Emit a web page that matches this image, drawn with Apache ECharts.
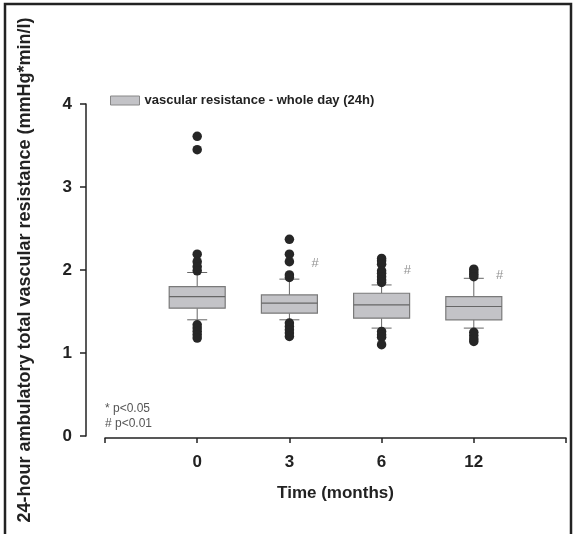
<!DOCTYPE html>
<html>
<head>
<meta charset="utf-8">
<script src="https://cdn.jsdelivr.net/npm/echarts@6/dist/echarts.min.js"></script>
<style>
  html, body { margin: 0; padding: 0; background: #fff; }
  #chart { width: 574px; height: 534px; }
</style>
</head>
<body>
<div id="chart"></div>
<script>
// time points (months) shown on the x axis
const timeLabels = ["0", "3", "6", "12"];
// box statistics per time point: [min whisker, Q1, median, Q3, max whisker]
const boxStats = [
  [1.40, 1.54, 1.68, 1.80, 1.97],
  [1.40, 1.48, 1.60, 1.70, 1.89],
  [1.30, 1.42, 1.58, 1.72, 1.82],
  [1.30, 1.40, 1.56, 1.68, 1.90]
];
// outliers per time point
const outliers0 = [3.61, 3.45, 2.19, 2.10, 2.04, 1.99, 1.34, 1.30, 1.26, 1.22, 1.18];
const outliers3 = [2.37, 2.19, 2.10, 1.94, 1.91, 1.36, 1.32, 1.28, 1.24, 1.20];
const outliers6 = [2.14, 2.11, 2.07, 1.99, 1.96, 1.92, 1.88, 1.85, 1.26, 1.22, 1.19, 1.10];
const outliers12 = [2.01, 1.98, 1.95, 1.92, 1.25, 1.21, 1.17, 1.14];
// significance marks (#) next to boxes: group index + offset, height
const hashX = [1.28, 2.28, 3.28];
const hashY = [2.08, 2.00, 1.94];
const yTicks = [0, 1, 2, 3, 4];

const legendName = "vascular resistance - whole day (24h)";
const boxColor = "#c3c3c7";

let boxData = boxStats.map((s, i) => [i].concat(s));
let outlierData = [];
[outliers0, outliers3, outliers6, outliers12].forEach((arr, i) => {
  arr.forEach(v => outlierData.push([i, v]));
});
let hashData = hashX.map((x, i) => [x, hashY[i]]);

let chart = echarts.init(document.getElementById("chart"));

chart.setOption({
  animation: false,
  textStyle: { fontFamily: "Liberation Sans, Arial, sans-serif" },
  grid: { left: 105, right: 8, top: 104, bottom: 98 },
  legend: {
    left: 105,
    top: 89,
    itemWidth: 29,
    itemHeight: 9,
    itemGap: 4,
    textStyle: { fontSize: 13, fontWeight: "bold", color: "#222" },
    data: [{ name: legendName, icon: "rect", itemStyle: { color: boxColor, borderColor: "#888", borderWidth: 1 } }]
  },
  xAxis: {
    type: "value",
    min: -1,
    max: 4,
    interval: 1,
    offset: 2,
    axisLine: { show: true, onZero: false, lineStyle: { color: "#222", width: 1.5 } },
    axisTick: { show: true, length: 5, lineStyle: { color: "#222", width: 1.5 } },
    splitLine: { show: false },
    axisLabel: {
      fontSize: 17,
      fontWeight: "bold",
      color: "#222",
      margin: 16,
      formatter: v => (v >= 0 && v < timeLabels.length ? timeLabels[v] : "")
    },
    name: "Time (months)",
    nameLocation: "middle",
    nameGap: 47,
    nameTextStyle: { fontSize: 17, fontWeight: "bold", color: "#222" }
  },
  yAxis: {
    type: "value",
    min: 0,
    max: 4,
    interval: 1,
    offset: 19,
    axisLine: { show: true, onZero: false, lineStyle: { color: "#222", width: 1.5 } },
    axisTick: { show: true, length: 6, lineStyle: { color: "#222", width: 1.5 } },
    splitLine: { show: false },
    axisLabel: {
      fontSize: 17,
      fontWeight: "bold",
      color: "#222",
      margin: 14,
      formatter: v => (yTicks.indexOf(v) >= 0 ? String(v) : "")
    },
    name: "24-hour ambulatory total vascular resistance (mmHg*min/l)",
    nameLocation: "middle",
    nameGap: 52,
    nameTextStyle: { fontSize: 18, fontWeight: "bold", color: "#222" }
  },
  graphic: [
    {
      type: "rect",
      shape: { x: 5, y: 4, width: 566, height: 560 },
      style: { fill: "none", stroke: "#222", lineWidth: 2.5 },
      silent: true
    },
    {
      type: "text",
      left: 105,
      top: 401,
      style: { text: "* p<0.05\n# p<0.01", fontSize: 12, lineHeight: 15, fill: "#555", fontFamily: "Liberation Sans, Arial, sans-serif" }
    }
  ],
  series: [
    {
      name: legendName,
      type: "custom",
      itemStyle: { color: boxColor },
      encode: { x: 0, y: [1, 2, 3, 4, 5] },
      renderItem: function (params, api) {
        let x = api.value(0);
        let lo = api.coord([x, api.value(1)]);
        let q1 = api.coord([x, api.value(2)]);
        let md = api.coord([x, api.value(3)]);
        let q3 = api.coord([x, api.value(4)]);
        let hi = api.coord([x, api.value(5)]);
        let bw = 56, cw = 20;
        let cx = q1[0];
        let lineStyle = { stroke: "#666", lineWidth: 1 };
        return {
          type: "group",
          children: [
            { type: "line", shape: { x1: cx, y1: q3[1], x2: cx, y2: hi[1] }, style: lineStyle },
            { type: "line", shape: { x1: cx, y1: q1[1], x2: cx, y2: lo[1] }, style: lineStyle },
            { type: "line", shape: { x1: cx - cw / 2, y1: hi[1], x2: cx + cw / 2, y2: hi[1] }, style: lineStyle },
            { type: "line", shape: { x1: cx - cw / 2, y1: lo[1], x2: cx + cw / 2, y2: lo[1] }, style: lineStyle },
            {
              type: "rect",
              shape: { x: cx - bw / 2, y: q3[1], width: bw, height: q1[1] - q3[1] },
              style: { fill: boxColor, stroke: "#7a7a7a", lineWidth: 1.2 }
            },
            { type: "line", shape: { x1: cx - bw / 2, y1: md[1], x2: cx + bw / 2, y2: md[1] }, style: { stroke: "#666", lineWidth: 1.2 } }
          ]
        };
      },
      data: boxData,
      z: 2
    },
    {
      name: "outliers",
      type: "scatter",
      symbol: "circle",
      symbolSize: 9.5,
      itemStyle: { color: "#262626", opacity: 1 },
      data: outlierData,
      z: 3
    },
    {
      name: "hash",
      type: "scatter",
      symbolSize: 0,
      label: {
        show: true,
        position: "inside",
        formatter: "#",
        fontSize: 13,
        color: "#777"
      },
      data: hashData,
      z: 3
    }
  ]
});
</script>
</body>
</html>
